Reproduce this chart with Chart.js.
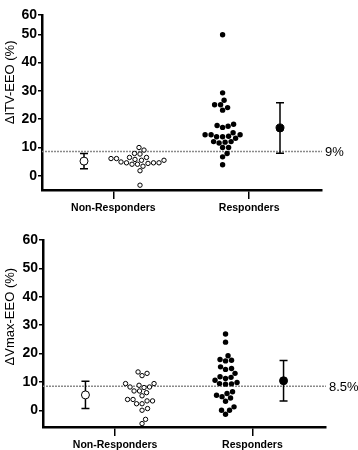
<!DOCTYPE html>
<html>
<head>
<meta charset="utf-8">
<script src="https://cdn.jsdelivr.net/npm/chart.js@4.4.1/dist/chart.umd.min.js"></script>
<style>
  html, body { margin: 0; padding: 0; background: #fff; }
  .panel { position: relative; width: 358px; height: 225px; }
</style>
</head>
<body>
<div class="panel"><canvas id="itv"></canvas></div>
<div class="panel"><canvas id="vmax"></canvas></div>
<script>
// categories and tick labels
const groups = ['Non-Responders', 'Responders'];
const yTickLabels = ['0', '10', '20', '30', '40', '50', '60'];

// top panel: delta ITV-EEO (%)
const itvNonResp = [7.9, 9.1, 10.0, 6.5, 6.1, 6.1, 6.5, 7.7, 5.8, 4.9, 4.6, 4.4, 3.4, 4.1, 4.1, 4.6, 4.6, 5.5, 5.5, 1.8, -3.3];
const itvResp = [49.8, 29.3, 26.7, 25.1, 25.1, 23.2, 24.1, 18.2, 17.5, 17.1, 17.8, 14.0, 13.3, 14.5, 14.5, 14.5, 15.2, 13.8, 13.8, 12.1, 11.6, 11.9, 12.1, 10.0, 10.0, 7.9, 6.7, 3.9];
const itvMean = [5.2, 16.9];
const itvSD = [2.7, 8.9];
const itvCutoff = 8.6;

// bottom panel: delta Vmax-EEO (%)
const vmaxNonResp = [13.0, 12.2, 13.5, 9.4, 8.8, 8.2, 8.0, 8.2, 9.4, 6.8, 6.2, 5.1, 6.8, 3.8, 3.3, 2.3, 2.3, 3.3, 3.8, 0.6, 0.0, -4.7, -3.2];
const vmaxResp = [26.9, 24.0, 19.2, 17.6, 17.4, 17.9, 15.3, 14.4, 14.7, 13.0, 11.6, 11.2, 11.8, 10.6, 9.4, 9.3, 9.2, 9.8, 6.5, 5.9, 5.3, 4.3, 3.2, 4.8, 1.2, 0.0, 0.0, -1.4];
const vmaxMean = [5.4, 10.4];
const vmaxSD = [4.8, 7.1];
const vmaxCutoff = 8.5;

const FONT = '"Liberation Sans", Arial, sans-serif';

// draws mean +/- SD whiskers, the dotted cutoff line and the rotated y title
const extras = {
  id: 'extras',
  beforeDatasetsDraw(chart, args, opts) {
    const { ctx, chartArea, scales: { x, y } } = chart;
    ctx.save();
    // cutoff line
    const cy = y.getPixelForValue(opts.cutoff);
    ctx.strokeStyle = '#8a8a8a';
    ctx.lineWidth = 1.5;
    ctx.setLineDash([2, 1]);
    ctx.beginPath();
    ctx.moveTo(chartArea.left, cy);
    ctx.lineTo(chartArea.right, cy);
    ctx.stroke();
    ctx.setLineDash([]);
    ctx.fillStyle = '#000';
    ctx.font = '13px ' + FONT;
    ctx.textBaseline = 'middle';
    ctx.fillText(opts.cutoffLabel, chartArea.right + 3, cy + 1);

    // error bars
    ctx.strokeStyle = '#000';
    ctx.lineWidth = 1.5;
    opts.means.forEach((m, i) => {
      const px = x.getPixelForValue(opts.meanX[i]);
      const top = y.getPixelForValue(m + opts.sd[i]);
      const bot = y.getPixelForValue(m - opts.sd[i]);
      ctx.beginPath();
      ctx.moveTo(px, top); ctx.lineTo(px, bot);
      ctx.moveTo(px - 4, top); ctx.lineTo(px + 4, top);
      ctx.moveTo(px - 4, bot); ctx.lineTo(px + 4, bot);
      ctx.stroke();
    });

    // y title
    ctx.translate(10, y.getPixelForValue(33));
    ctx.rotate(-Math.PI / 2);
    ctx.textAlign = 'center';
    ctx.font = '13px ' + FONT;
    ctx.fillText(opts.title, 0, 0);
    ctx.restore();
  }
};

// simple beeswarm: spread points sideways so they don't overlap
function swarm(chart, values, centerX, gap) {
  const xs = chart.scales.x, ys = chart.scales.y;
  const cx = xs.getPixelForValue(centerX);
  const placed = [];
  const out = [];
  const order = values.map((v, i) => i).sort((a, b) => values[a] - values[b]);
  order.forEach(i => {
    const py = ys.getPixelForValue(values[i]);
    for (let k = 0; ; k++) {
      const dx = (k % 2 ? 1 : -1) * Math.ceil(k / 2) * 0.5;
      if (placed.every(p => Math.hypot(p.x - dx, p.y - py) >= gap)) {
        placed.push({ x: dx, y: py });
        out[i] = { x: xs.getValueForPixel(cx + dx), y: values[i] };
        break;
      }
    }
  });
  return out;
}

function makePanel(id, p) {
  const meanX = [1.5, 8.5];
  const swarmX = [3.5, 6.45];
  const tickX = [2.55, 7.4];

  const chart = new Chart(document.getElementById(id), {
    type: 'scatter',
    data: {
      datasets: [
        {
          data: p.nonResp.map(v => ({ x: swarmX[0], y: v })),
          pointRadius: 2.2,
          backgroundColor: '#fff',
          borderColor: '#000',
          borderWidth: 1
        },
        {
          data: p.resp.map(v => ({ x: swarmX[1], y: v })),
          pointRadius: 2.7,
          backgroundColor: '#000',
          borderColor: '#000',
          borderWidth: 0
        },
        {
          data: p.mean.map((m, i) => ({ x: meanX[i], y: m })),
          pointRadius: 4,
          backgroundColor: ['#fff', '#000'],
          borderColor: '#000',
          borderWidth: 1
        }
      ]
    },
    options: {
      responsive: true,
      maintainAspectRatio: false,
      animation: false,
      events: [],
      layout: { padding: { top: p.padTop, right: p.padRight, left: 0, bottom: 0 } },
      scales: {
        x: {
          type: 'linear',
          min: 0,
          max: 10,
          afterBuildTicks: (scale) => { scale.ticks = tickX.map(v => ({ value: v })); },
          afterFit: (scale) => { scale.height = p.xHeight; },
          grid: { drawOnChartArea: false, drawTicks: true, tickLength: 9, color: '#000', lineWidth: 1.5 },
          border: { display: true, color: '#000', width: 2.5 },
          ticks: {
            callback: (value, index) => groups[index],
            color: '#000',
            padding: 3,
            maxRotation: 0,
            font: { family: FONT, size: 10.5, weight: 'bold' }
          }
        },
        y: {
          type: 'linear',
          min: p.yMin,
          max: p.yMax,
          afterBuildTicks: (scale) => { scale.ticks = p.yTickValues.map(v => ({ value: v })); },
          afterFit: (scale) => { scale.width = p.yWidth; },
          grid: { drawOnChartArea: false, drawTicks: true, tickLength: 4, color: '#000', lineWidth: 1.5 },
          border: { display: true, color: '#000', width: 2.5 },
          ticks: {
            callback: (value, index) => yTickLabels[index],
            color: '#000',
            padding: 1,
            font: { family: FONT, size: 14, weight: 'bold' }
          }
        }
      },
      plugins: {
        legend: { display: false },
        tooltip: { enabled: false },
        extras: {
          means: p.mean,
          sd: p.sd,
          meanX: meanX,
          cutoff: p.cutoff,
          cutoffLabel: p.cutoffLabel,
          title: p.title
        }
      }
    },
    plugins: [extras]
  });

  chart.data.datasets[0].data = swarm(chart, p.nonResp, swarmX[0], 5.4);
  chart.data.datasets[1].data = swarm(chart, p.resp, swarmX[1], 5.6);
  chart.update('none');
}

makePanel('itv', {
  nonResp: itvNonResp, resp: itvResp, mean: itvMean, sd: itvSD,
  cutoff: itvCutoff, cutoffLabel: '9%', title: '\u0394ITV-EEO (%)',
  yMin: -5, yMax: 56.8, yTickValues: [0, 10, 20, 30, 40, 50, 56.8],
  padTop: 15, padRight: 36, xHeight: 35, yWidth: 42
});

makePanel('vmax', {
  nonResp: vmaxNonResp, resp: vmaxResp, mean: vmaxMean, sd: vmaxSD,
  cutoff: vmaxCutoff, cutoffLabel: '8.5%', title: '\u0394Vmax-EEO (%)',
  yMin: -5.9, yMax: 60, yTickValues: [0, 10, 20, 30, 40, 50, 60],
  padTop: 15, padRight: 32, xHeight: 23, yWidth: 43
});
</script>
</body>
</html>
